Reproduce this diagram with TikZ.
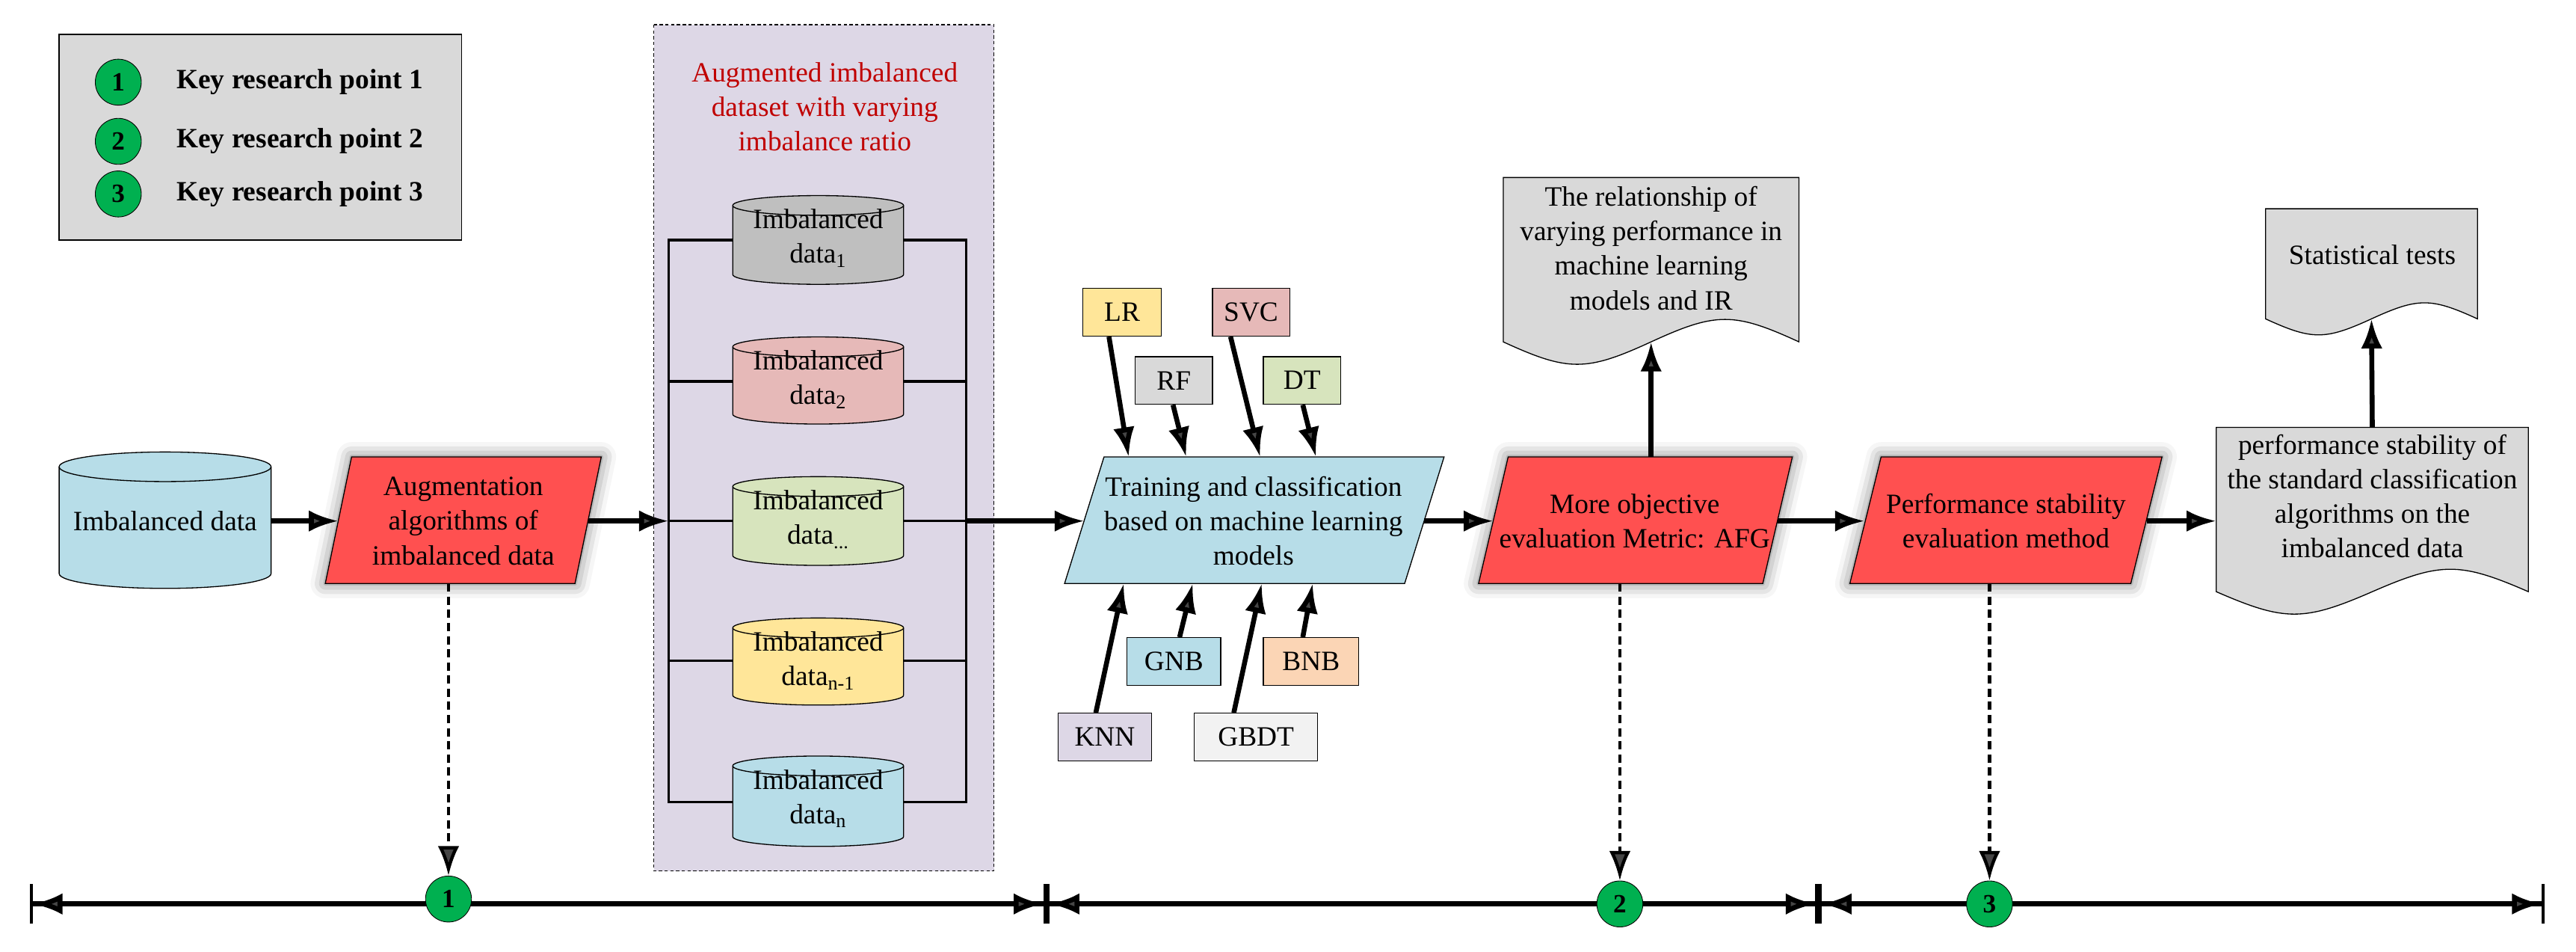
\documentclass[tikz,border=0pt]{standalone}
\usepackage{fontspec}
\setmainfont{Liberation Serif}
\usetikzlibrary{arrows.meta,shadows.blur}
\definecolor{cred}{HTML}{FF5050}
\definecolor{cblue}{HTML}{B7DDE8}
\definecolor{cgray}{HTML}{BFBFBF}
\definecolor{cpink}{HTML}{E6B9B8}
\definecolor{cgreen}{HTML}{D7E4BD}
\definecolor{cyellow}{HTML}{FFE699}
\definecolor{cpurple}{HTML}{DDD7E6}
\definecolor{clgray}{HTML}{D9D9D9}
\definecolor{corange}{HTML}{FBD5B5}
\definecolor{cwhite}{HTML}{F2F2F2}
\definecolor{cgood}{HTML}{00B050}
\definecolor{ctitle}{HTML}{C00000}
\newcommand\mycyl[7]{% name, cx, top, bottom, rx, ry, fill
  \draw[fill=#7,line width=0.6pt] (#2-#5,#3) -- (#2-#5,#4) arc[start angle=180,end angle=0,x radius=#5,y radius=#6] -- (#2+#5,#3) arc[start angle=0,end angle=-180,x radius=#5,y radius=#6] -- cycle;
  \draw[line width=0.6pt] (#2-#5,#3) arc[start angle=180,end angle=0,x radius=#5,y radius=#6];
  \coordinate (#1) at (#2,{(#3+#4)/2});}
\newcommand\mydoc[6]{% name, x0, x1, top, edge y, amplitude
  \draw[fill=clgray,line width=0.6pt] (#2,#5) -- (#2,#4) -- (#3,#4) -- (#3,#5)
   .. controls ({#3-(#3-#2)*0.22},{#5-#6*1.3}) and ({(#2+#3)/2+(#3-#2)*0.22},{#5-#6*1.3}) .. ({(#2+#3)/2},#5)
   .. controls ({(#2+#3)/2-(#3-#2)*0.22},{#5+#6*1.3}) and ({#2+(#3-#2)*0.22},{#5+#6*1.3}) .. (#2,#5) -- cycle;
  \coordinate (#1) at ({(#2+#3)/2},#5);}
\newcommand\mypara[8]{% 4 corners
  \path[blur shadow={shadow xshift=0pt,shadow yshift=0pt,shadow blur radius=9pt,shadow opacity=55,fill=red!45!gray}] (#1,#2) -- (#3,#2) -- (#4,#5) -- (#6,#5) -- cycle;
  \draw[fill=cred,line width=0.6pt] (#1,#2) -- (#3,#2) -- (#4,#5) -- (#6,#5) -- cycle;}
\tikzset{
  txt/.style={font=\fontsize{17}{21}\selectfont,align=center,inner sep=0pt},
  arr/.style={line width=3pt,-{Latex[length=18pt,width=13pt]}},
  darr/.style={line width=2pt,dash pattern=on 5pt off 3pt,-{Latex[length=18pt,width=13pt]}},
  mbox/.style={draw,line width=0.6pt,font=\fontsize{17}{21}\selectfont,inner sep=0pt},
  kc/.style={circle,draw,fill=cgood,minimum size=28pt,inner sep=0pt,font=\bfseries\fontsize{16}{18}\selectfont},
  tl/.style={line width=3pt,{Bar[width=24pt,line width=2pt]Latex[length=18pt,width=13pt]}-{Latex[length=18pt,width=13pt]Bar[width=24pt,line width=2pt]}}
}
\begin{document}
\begin{tikzpicture}[x=1pt,y=-1pt]
\useasboundingbox (0,0) rectangle (1568,579);
% legend
\draw[fill=clgray,line width=0.6pt] (36,21) rectangle (281,146);
\foreach \i/\y in {1/50,2/86,3/118}{
  \node[kc] (l\i) at (72,\y) {\i};
  \node[anchor=west,font=\bfseries\fontsize{17}{19}\selectfont] (lt\i) at (104,\y) {Key research point \i};}
% purple box
\draw[fill=cpurple,dash pattern=on 2pt off 1.5pt,line width=0.6pt] (398,15) rectangle (605,530);
\node[txt,text=ctitle] (title) at (502,65) {Augmented imbalanced\\dataset with varying\\imbalance ratio};
% bracket
\draw[line width=1.6pt] (407,146) rectangle (588,488);
\foreach \y in {232,317,402} \draw[line width=1.6pt] (407,\y) -- (588,\y);
\coordinate (bl) at (407,317);
\coordinate (br) at (588,317);
\mycyl{c1}{498}{125}{167}{52}{6}{cgray}
\mycyl{c2}{498}{211}{252}{52}{6}{cpink}
\mycyl{c3}{498}{296}{338}{52}{6}{cgreen}
\mycyl{c4}{498}{382}{423}{52}{6}{cyellow}
\mycyl{c5}{498}{466}{509}{52}{6}{cblue}
\node[txt] (t1) at (498,145) {Imbalanced\\data\textsubscript{1}};
\node[txt] (t2) at (498,231) {Imbalanced\\data\textsubscript{2}};
\node[txt] (t3) at (498,316) {Imbalanced\\data\textsubscript{...}};
\node[txt] (t4) at (498,402) {Imbalanced\\data\textsubscript{n-1}};
\node[txt] (t5) at (498,486) {Imbalanced\\data\textsubscript{n}};
% input cylinder
\mycyl{c0}{100.5}{284}{349}{64.5}{9}{cblue}
\node[txt] (t0) at (100.5,317) {Imbalanced data};
\coordinate (c0r) at (165,317);
% parallelograms
\mypara{214}{278}{366}{350}{355}{198}{}{}
\node[txt] (aug) at (282,317) {Augmentation\\algorithms of\\imbalanced data};
\coordinate (augl) at (206,317); \coordinate (augr) at (358,317); \coordinate (augb) at (273,355);
\draw[fill=cblue,line width=0.6pt] (672,278) -- (879,278) -- (855,355) -- (648,355) -- cycle;
\node[txt] (train) at (763,317) {Training and classification\\based on machine learning\\models};
\coordinate (trl) at (660,317); \coordinate (trr) at (867,317);
\mypara{918}{278}{1091}{1073}{355}{900}{}{}
\node[txt] (afg) at (995,317) {More objective\\evaluation Metric: AFG};
\coordinate (afgl) at (909,317); \coordinate (afgr) at (1082,317); \coordinate (afgt) at (1005,278); \coordinate (afgb) at (986,355);
\mypara{1145}{278}{1316}{1297}{355}{1126}{}{}
\node[txt] (perf) at (1221,317) {Performance stability\\evaluation method};
\coordinate (perfl) at (1135,317); \coordinate (perfr) at (1307,317); \coordinate (perfb) at (1211,355);
% documents
\mydoc{d1}{915}{1095}{108}{208}{14}
\node[txt] (d1t) at (1005,151) {The relationship of\\varying performance in\\machine learning\\models and IR};
\mydoc{d2}{1379}{1508}{127}{194}{10}
\node[txt] (d2t) at (1444,155) {Statistical tests};
\mydoc{d3}{1349}{1539}{260}{360}{14}
\node[txt] (d3t) at (1444,302) {performance stability of\\the standard classification\\algorithms on the\\imbalanced data};
\coordinate (d3l) at (1349,317); \coordinate (d3t0) at (1444,260);
% model boxes
\node[mbox,fill=cyellow,minimum width=48pt,minimum height=29pt] (LR) at (683,190) {LR};
\node[mbox,fill=cpink,minimum width=47pt,minimum height=29pt] (SVC) at (761.5,190) {SVC};
\node[mbox,fill=clgray,minimum width=47pt,minimum height=29pt] (RF) at (714.5,231.5) {RF};
\node[mbox,fill=cgreen,minimum width=47pt,minimum height=29pt] (DT) at (792.5,231.5) {DT};
\node[mbox,fill=cblue,minimum width=57pt,minimum height=29pt] (GNB) at (714.5,402.5) {GNB};
\node[mbox,fill=corange,minimum width=58pt,minimum height=29pt] (BNB) at (798,402.5) {BNB};
\node[mbox,fill=cpurple,minimum width=57pt,minimum height=29pt] (KNN) at (672.5,448.5) {KNN};
\node[mbox,fill=cwhite,minimum width=75pt,minimum height=29pt] (GBDT) at (764.5,448.5) {GBDT};
\coordinate (eLR) at (687,278); \coordinate (eRF) at (722,278); \coordinate (eSVC) at (767,278); \coordinate (eDT) at (801,278);
\coordinate (eKNN) at (684,355); \coordinate (eGNB) at (726,355); \coordinate (eGBDT) at (768,355); \coordinate (eBNB) at (799,355);
\draw[arr] (LR.south -| 675,0) -- (eLR);
\draw[arr] (RF.south -| 714,0) -- (eRF);
\draw[arr] (SVC.south -| 749,0) -- (eSVC);
\draw[arr] (DT.south -| 793,0) -- (eDT);
\draw[arr] (KNN.north -| 667,0) -- (eKNN);
\draw[arr] (GNB.north -| 718,0) -- (eGNB);
\draw[arr] (GBDT.north -| 751,0) -- (eGBDT);
\draw[arr] (BNB.north -| 793,0) -- (eBNB);
% flow arrows
\draw[arr] (c0r) -- (augl);
\draw[arr] (augr) -- (bl);
\draw[arr] (br) -- (trl);
\draw[arr] (trr) -- (afgl);
\draw[arr] (afgr) -- (perfl);
\draw[arr] (perfr) -- (d3l);
\draw[arr] (afgt) -- (d1);
\draw[arr] (d3t0) -- (d2);
% timeline
\coordinate (p0) at (18,550); \coordinate (p1) at (637,550); \coordinate (p2) at (1107,550); \coordinate (p3) at (1549,550);
\draw[tl] (p0) -- (p1);
\draw[tl] (p1) -- (p2);
\draw[tl] (p2) -- (p3);
\node[kc] (k1) at (273,547) {1};
\node[kc] (k2) at (986,550) {2};
\node[kc] (k3) at (1211,550) {3};
\draw[darr] (augb) -- (k1);
\draw[darr] (afgb) -- (k2);
\draw[darr] (perfb) -- (k3);
\end{tikzpicture}
\end{document}
